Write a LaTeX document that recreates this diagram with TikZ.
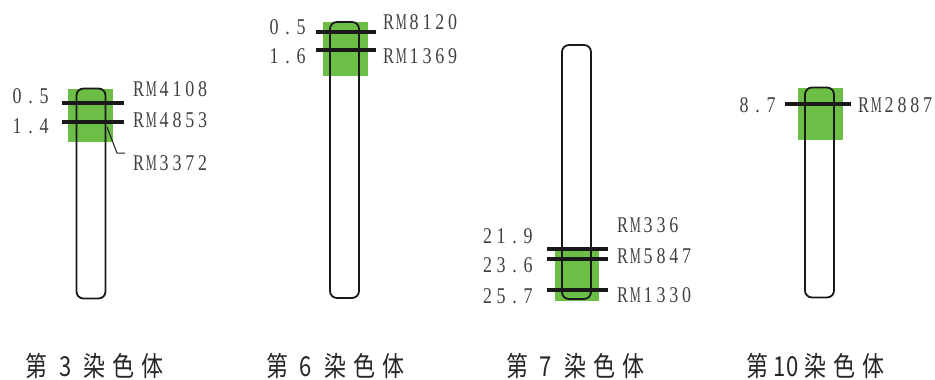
\documentclass[tikz,border=0pt]{standalone}
\usepackage{fontspec}
\usepackage{graphicx}
\setmainfont{Liberation Serif}
\newfontfamily\lblfont[FakeStretch=0.8]{Liberation Serif}
\newfontfamily\cjk[FakeStretch=0.8]{Noto Sans CJK SC}
\definecolor{qtl}{RGB}{108,190,70}
% set a string in fixed-width cells, one cell per token;
% glyphs wider than \cellmax are squeezed to fit
\newsavebox\cellbox
\newlength\cellmax
\newcommand\cellrow[3]{\def\cellw{#1}\setlength\cellmax{#2}\cellloop#3\relax}
\def\cellloop#1{\ifx\relax#1\else
  \sbox\cellbox{#1}%
  \ifdim\wd\cellbox>\cellmax
    \makebox[\cellw][c]{\resizebox{\cellmax}{\height}{\usebox\cellbox}}%
  \else
    \makebox[\cellw][c]{\usebox\cellbox}%
  \fi
  \expandafter\cellloop\fi}
\newcommand\numtxt[1]{\cellrow{13.5pt}{11pt}{#1}}
\newcommand\rmtxt[1]{\cellrow{12.8pt}{11pt}{#1}}
\newcommand\captxt[1]{\cellrow{29pt}{30pt}{#1}}
\begin{document}
\begin{tikzpicture}[x=1pt,y=-1pt,
  chrom/.style={draw=black!90, line width=1.8pt, rounded corners=7pt, inner sep=0pt, minimum width=29pt},
  qtlbox/.style={fill=qtl, draw=none, inner sep=0pt},
  markbar/.style={line width=4.5pt, black!90},
  leader/.style={line width=1pt, black!90},
  lbl/.style={inner sep=0pt, text=black!75, font=\lblfont\fontsize{22.5}{22.5}\selectfont},
  poslbl/.style={lbl, anchor=east},
  rmlbl/.style={lbl, anchor=west},
  title/.style={inner sep=0pt, font=\cjk\fontsize{27.5}{27.5}\selectfont, text=black!85}]
\useasboundingbox (0,0) rectangle (935,380);

% ---- chromosome 3 ----
\node[qtlbox, minimum width=45pt, minimum height=53pt] (g3) at (90.5,115.5) {};
\node[chrom, minimum height=210pt] (c3) at (91,193.5) {};
\coordinate (b3a) at (62,103); \coordinate (e3a) at (124,103);
\coordinate (b3b) at (62,122); \coordinate (e3b) at (124,122);
\draw[markbar] (b3a) -- (e3a);
\draw[markbar] (b3b) -- (e3b);
\node[poslbl] (p3a) at (51,96) {\numtxt{0.5}};
\node[poslbl] (p3b) at (51,126) {\numtxt{1.4}};
\node[rmlbl] (r3a) at (132,89) {\rmtxt{RM4108}};
\node[rmlbl] (r3b) at (132,120) {\rmtxt{RM4853}};
\node[rmlbl] (r3c) at (132,163) {\rmtxt{RM3372}};
\coordinate (l3s) at (107,127); \coordinate (l3k) at (117,153); \coordinate (l3e) at (125,153);
\draw[leader] (l3s) -- (l3k) -- (l3e);

% ---- chromosome 6 ----
\node[qtlbox, minimum width=45pt, minimum height=54pt] (g6) at (345.5,49) {};
\node[chrom, minimum height=276pt] (c6) at (344.5,160) {};
\coordinate (b6a) at (316,32); \coordinate (e6a) at (376,32);
\coordinate (b6b) at (316,50); \coordinate (e6b) at (376,50);
\draw[markbar] (b6a) -- (e6a);
\draw[markbar] (b6b) -- (e6b);
\node[poslbl] (p6a) at (308,27) {\numtxt{0.5}};
\node[poslbl] (p6b) at (308,56) {\numtxt{1.6}};
\node[rmlbl] (r6a) at (382,22) {\rmtxt{RM8120}};
\node[rmlbl] (r6b) at (382,56) {\rmtxt{RM1369}};

% ---- chromosome 7 ----
\node[qtlbox, minimum width=44pt, minimum height=52pt] (g7) at (577,275) {};
\node[chrom, minimum height=254pt] (c7) at (576.5,172) {};
\coordinate (b7a) at (547,249); \coordinate (e7a) at (608,249);
\coordinate (b7b) at (547,259); \coordinate (e7b) at (608,259);
\coordinate (b7c) at (547,290); \coordinate (e7c) at (608,290);
\draw[markbar] (b7a) -- (e7a);
\draw[markbar] (b7b) -- (e7b);
\draw[markbar] (b7c) -- (e7c);
\node[poslbl] (p7a) at (535,236) {\numtxt{21.9}};
\node[poslbl] (p7b) at (535,265) {\numtxt{23.6}};
\node[poslbl] (p7c) at (535,296) {\numtxt{25.7}};
\node[rmlbl] (r7a) at (616,225) {\rmtxt{RM336}};
\node[rmlbl] (r7b) at (616,256) {\rmtxt{RM5847}};
\node[rmlbl] (r7c) at (616,295) {\rmtxt{RM1330}};

% ---- chromosome 10 ----
\node[qtlbox, minimum width=45pt, minimum height=52pt] (g10) at (820.5,114) {};
\node[chrom, minimum height=210pt] (c10) at (819.5,192.5) {};
\coordinate (b10a) at (785,104); \coordinate (e10a) at (851,104);
\draw[markbar] (b10a) -- (e10a);
\node[poslbl] (p10a) at (778,105) {\numtxt{8.7}};
\node[rmlbl] (r10a) at (857,105) {\rmtxt{RM2887}};

% ---- captions ----
\node[title] (t3) at (94.5,366) {\captxt{第3染色体}};
\node[title] (t6) at (335,366) {\captxt{第6染色体}};
\node[title] (t7) at (575,366) {\captxt{第7染色体}};
\node[title] (t10) at (815,366) {\captxt{第{10}染色体}};
\end{tikzpicture}
\end{document}
